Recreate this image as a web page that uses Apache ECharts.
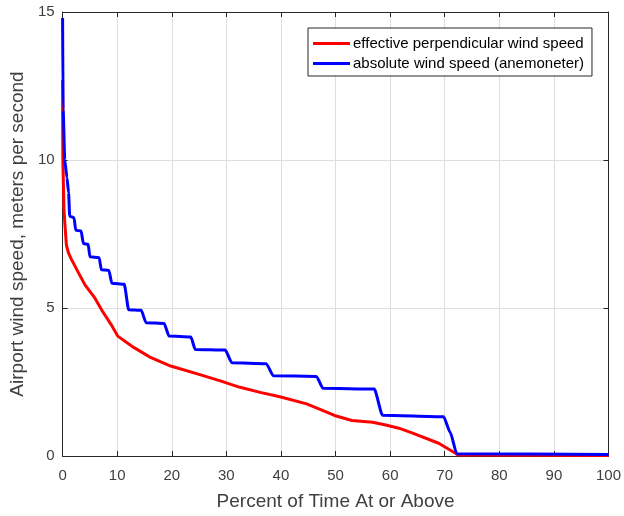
<!DOCTYPE html>
<html>
<head>
<meta charset="utf-8">
<script src="https://cdn.jsdelivr.net/npm/echarts@6/dist/echarts.min.js"></script>
<style>
  html, body { margin: 0; padding: 0; background: #fff; }
  #chart { width: 624px; height: 516px; }
</style>
</head>
<body>
<div id="chart"></div>
<script>
  // percent of time at or above, wind speed (m/s)
  const effectivePts = [
    [0, 12.7], [0.02, 11.1], [0.05, 10.0], [0.25, 8.36], [0.4, 7.9], [0.7, 7.12],
    [1.1, 6.85], [1.6, 6.65], [2.8, 6.23], [4.1, 5.78], [5.9, 5.34], [7.3, 4.89], [8.9, 4.44],
    [10.1, 4.05], [13.1, 3.66], [16.2, 3.32], [19.8, 3.04], [25.3, 2.74], [28.9, 2.54],
    [32.5, 2.32], [36.2, 2.15], [39.8, 2.0], [44.7, 1.76], [47.5, 1.55], [49.8, 1.37],
    [53, 1.2], [56.8, 1.14], [59.2, 1.05], [61.6, 0.94], [64, 0.78], [68.9, 0.43],
    [71.9, 0.1], [72.5, 0.03], [100, 0.02]
  ];
  const absolutePts = [
    [0, 14.8], [0.1, 11.7], [0.4, 10.0], [0.8, 9.4], [1.1, 8.9], [1.3, 8.1],
    [2.1, 8.05], [2.4, 7.63], [3.4, 7.6], [3.8, 7.18], [4.7, 7.15], [5.0, 6.73],
    [6.7, 6.7], [7.1, 6.29], [8.5, 6.27], [9.0, 5.84], [11.3, 5.8], [12.1, 4.94],
    [14.4, 4.92], [15.3, 4.5], [18.6, 4.48], [19.5, 4.05], [23.5, 4.02], [24.3, 3.6],
    [29.8, 3.58], [31.0, 3.15], [37.3, 3.12], [38.6, 2.71], [46.5, 2.69], [47.7, 2.29],
    [57.1, 2.26], [58.6, 1.38], [69.8, 1.33], [71.0, 0.8], [72.2, 0.08], [100, 0.05]
  ];
  const seriesNames = ['effective perpendicular wind speed', 'absolute wind speed (anemoneter)'];
  const seriesColors = ['#ff0000', '#0000ff'];

  const font = 'Liberation Sans, Arial, Helvetica, sans-serif';
  const axisColor = '#262626';
  const textColor = '#404040';

  const chart = echarts.init(document.getElementById('chart'), null, { renderer: 'canvas' });

  function xAxisCfg(pos, main) {
    return {
      type: 'value', position: pos, min: 0, max: 100, interval: 10,
      axisLine: { show: true, onZero: false, lineStyle: { color: axisColor, width: 1 } },
      axisTick: { show: true, inside: true, length: 5, lineStyle: { color: axisColor } },
      axisLabel: { show: main, color: textColor, fontFamily: font, fontSize: 15, margin: 12 },
      splitLine: { show: main, lineStyle: { color: '#dedede', width: 1 } },
      name: main ? 'Percent of Time At or Above' : '',
      nameLocation: 'middle', nameGap: 36,
      nameTextStyle: { color: textColor, fontFamily: font, fontSize: 19 }
    };
  }
  function yAxisCfg(pos, main) {
    return {
      type: 'value', position: pos, min: 0, max: 15, interval: 5,
      axisLine: { show: true, onZero: false, lineStyle: { color: axisColor, width: 1 } },
      axisTick: { show: true, inside: true, length: 5, lineStyle: { color: axisColor } },
      axisLabel: { show: main, color: textColor, fontFamily: font, fontSize: 15, margin: 8 },
      splitLine: { show: main, lineStyle: { color: '#dedede', width: 1 } },
      name: main ? 'Airport wind speed, meters per second' : '',
      nameLocation: 'middle', nameGap: 28,
      nameTextStyle: { color: textColor, fontFamily: font, fontSize: 19 }
    };
  }

  chart.setOption({
    animation: false,
    backgroundColor: '#ffffff',
    grid: { left: 61, right: 14, top: 12, bottom: 58 },
    legend: {
      data: seriesNames,
      orient: 'vertical',
      left: 308, top: 28,
      padding: [8, 8, 5, 5],
      itemGap: 5,
      itemWidth: 37, itemHeight: 3,
      icon: 'rect',
      backgroundColor: '#ffffff',
      borderColor: axisColor, borderWidth: 1,
      textStyle: { color: '#000000', fontFamily: font, fontSize: 15, padding: [0, 0, 0, -2] }
    },
    xAxis: [xAxisCfg('bottom', true), xAxisCfg('top', false)],
    yAxis: [yAxisCfg('left', true), yAxisCfg('right', false)],
    series: [
      {
        name: seriesNames[0], type: 'line', data: effectivePts,
        showSymbol: false, symbol: 'none', color: seriesColors[0],
        lineStyle: { width: 3, color: seriesColors[0] }
      },
      {
        name: seriesNames[1], type: 'line', data: absolutePts,
        showSymbol: false, symbol: 'none', color: seriesColors[1],
        smooth: 0.2, smoothMonotone: 'x',
        lineStyle: { width: 3, color: seriesColors[1] }
      }
    ]
  });
</script>
</body>
</html>
